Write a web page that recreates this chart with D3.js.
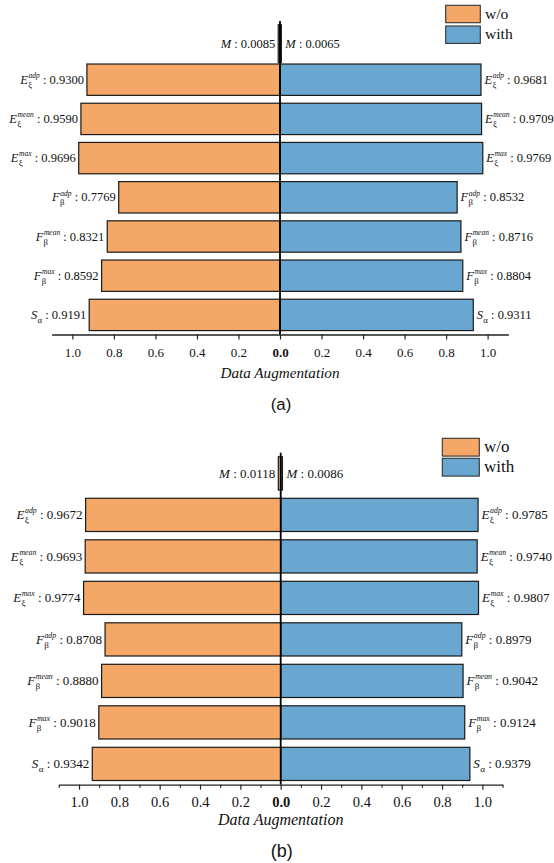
<!DOCTYPE html>
<html><head><meta charset="utf-8">
<script src="https://cdn.jsdelivr.net/npm/d3@7"></script>
<style>body{margin:0;background:#fff}svg{display:block}</style>
</head><body>
<svg id="chart" width="554" height="863"></svg>
<script>
// ---- data ----
const categories = ["M", "Eadp", "Emean", "Emax", "Fadp", "Fmean", "Fmax", "S"];
const mainLetters = ["M", "E", "E", "E", "F", "F", "F", "S"];
const subLetters = ["", "ξ", "ξ", "ξ", "β", "β", "β", "α"];
const supTexts = ["", "adp", "mean", "max", "adp", "mean", "max", ""];
const seriesNames = ["w/o", "with"];
const woA = [0.0085, 0.9300, 0.9590, 0.9696, 0.7769, 0.8321, 0.8592, 0.9191];
const withA = [0.0065, 0.9681, 0.9709, 0.9769, 0.8532, 0.8716, 0.8804, 0.9311];
const woB = [0.0118, 0.9672, 0.9693, 0.9774, 0.8708, 0.8880, 0.9018, 0.9342];
const withB = [0.0086, 0.9785, 0.9740, 0.9807, 0.8979, 0.9042, 0.9124, 0.9379];
const majorTicks = [-1.0, -0.8, -0.6, -0.4, -0.2, 0.0, 0.2, 0.4, 0.6, 0.8, 1.0];
const minorTicks = [-1.1, -0.9, -0.7, -0.5, -0.3, -0.1, 0.1, 0.3, 0.5, 0.7, 0.9, 1.1];
const axisTitle = "Data Augmentation";
const captions = ["(a)", "(b)"];

const colors = ["#F4A766", "#69A7D0"];
const serif = "'Liberation Serif','Times New Roman',serif";
const sans = "'Liberation Sans',Arial,sans-serif";

const svg = d3.select("#chart");

const panels = [
  {wo: woA, wi: withA, cx: 280, unit: 207.6, top: 20.9, bottom: 334.5, fs: 12.5, tickFs: 13,
   tickY: 352.7, titleY: 378, titleFs: 15.2, capY: 409.5, capFs: 16.8, minor: false, mFull: true,
   leg: {x: 445.7, y: 5.3, w: 34.6, h: 17.4, gap: 20.7, fs: 15.6, tx: 485}, cap: captions[0]},
  {wo: woB, wi: withB, cx: 280.7, unit: 201.7, top: 452.65, bottom: 784.65, fs: 13, tickFs: 14.5,
   tickY: 802, titleY: 825, titleFs: 16, capY: 857, capFs: 18, minor: true, mFull: false,
   leg: {x: 442.3, y: 438.3, w: 37, h: 17.8, gap: 20, fs: 17, tx: 484}, cap: captions[1]}
];

function measure(txt, size, italic) {
  const t = svg.append("text").style("font-family", serif).style("font-size", size + "px")
    .style("font-style", italic ? "italic" : "normal").attr("xml:space", "preserve").text(txt);
  const w = t.node().getComputedTextLength();
  t.remove();
  return w;
}

function drawLabel(g, x, yc, anchor, i, val, fs) {
  const supFs = fs * 0.6, subFs = fs * 0.7;
  const rest = " : " + val.toFixed(4);
  const w1 = measure(mainLetters[i], fs, true);
  const wSup = supTexts[i] ? measure(supTexts[i], supFs, true) + 0.6 : 0;
  const wSub = subLetters[i] ? measure(subLetters[i], subFs, false) + 0.3 : 0;
  const extra = Math.max(wSup, wSub);
  const wRest = measure(rest, fs, false);
  const total = w1 + extra + wRest;
  const tx = anchor === "end" ? x - total : x;
  const by = yc + fs * 0.32;
  const t = g.append("text").attr("x", tx).attr("y", by)
    .style("font-family", serif).style("font-size", fs + "px").attr("fill", "#111")
    .attr("xml:space", "preserve");
  t.append("tspan").style("font-style", "italic").text(mainLetters[i]);
  if (supTexts[i]) {
    t.append("tspan").attr("x", tx + w1 + 0.6).attr("y", by - fs * 0.45)
      .style("font-size", supFs + "px").style("font-style", "italic").text(supTexts[i]);
  }
  if (subLetters[i]) {
    t.append("tspan").attr("x", tx + w1 + 0.3).attr("y", by + fs * 0.33)
      .style("font-size", subFs + "px").text(subLetters[i]);
  }
  t.append("tspan").attr("x", tx + w1 + extra).attr("y", by).text(rest);
}

panels.forEach(p => {
  const g = svg.append("g");
  const x = d3.scaleLinear().domain([-1.1, 1.1]).range([p.cx - 1.1 * p.unit, p.cx + 1.1 * p.unit]);
  const y = d3.scaleBand().domain(categories).range([p.top, p.bottom]).paddingInner(0.2).paddingOuter(0.1);
  const bh = i => (i === 0 && p.mFull) ? (y(categories[1]) - y(categories[0]) - 1.5) : y.bandwidth();

  // bars
  categories.forEach((c, i) => {
    g.append("rect").attr("x", x(-p.wo[i])).attr("y", y(c))
      .attr("width", x(0) - x(-p.wo[i])).attr("height", bh(i))
      .attr("fill", colors[0]).attr("stroke", "#1a1a1a").attr("stroke-width", 1.2);
    g.append("rect").attr("x", x(0)).attr("y", y(c))
      .attr("width", x(p.wi[i]) - x(0)).attr("height", bh(i))
      .attr("fill", colors[1]).attr("stroke", "#1a1a1a").attr("stroke-width", 1.2);
  });

  // center line
  g.append("line").attr("x1", x(0)).attr("x2", x(0)).attr("y1", p.top).attr("y2", p.bottom)
    .attr("stroke", "#000").attr("stroke-width", 1.8);

  // labels
  categories.forEach((c, i) => {
    const yc = y(c) + bh(i) / 2;
    if (i === 0) {
      [[x(-p.wo[i]) - 3, "end", p.wo[i]], [x(p.wi[i]) + 4, "start", p.wi[i]]].forEach(([lx, an, v]) => {
        const t = g.append("text").attr("x", lx).attr("y", yc + p.fs * 0.32).attr("text-anchor", an)
          .style("font-family", serif).style("font-size", p.fs + "px").attr("fill", "#111")
          .attr("xml:space", "preserve");
        t.append("tspan").style("font-style", "italic").text("M");
        t.append("tspan").text(" : " + v.toFixed(4));
      });
    } else {
      drawLabel(g, x(-p.wo[i]) - 3, yc, "end", i, p.wo[i], p.fs);
      drawLabel(g, x(p.wi[i]) + 3.5, yc, "start", i, p.wi[i], p.fs);
    }
  });

  // axis
  const ax = g.append("g").attr("transform", `translate(0,${p.bottom})`)
    .call(d3.axisBottom(x).tickValues(majorTicks).tickSize(5).tickSizeOuter(0)
      .tickFormat(d => Math.abs(d).toFixed(1)));
  ax.select(".domain").attr("stroke", "#222").attr("stroke-width", 1.3);
  ax.selectAll(".tick line").attr("stroke", "#222").attr("stroke-width", 1.2);
  ax.selectAll(".tick text").attr("dy", null)
    .attr("y", p.tickY - p.bottom + p.tickFs * 0.35)
    .style("font-family", serif).style("font-size", p.tickFs + "px").attr("fill", "#111")
    .style("font-weight", d => d === 0 ? "bold" : "normal");
  if (p.minor) {
    const mx = g.append("g").attr("transform", `translate(0,${p.bottom})`)
      .call(d3.axisBottom(x).tickValues(minorTicks).tickSize(3).tickSizeOuter(0).tickFormat(""));
    mx.select(".domain").remove();
    mx.selectAll(".tick line").attr("stroke", "#222").attr("stroke-width", 1.2);
  }

  // axis title
  g.append("text").attr("x", x(0)).attr("y", p.titleY).attr("text-anchor", "middle")
    .style("font-family", serif).style("font-size", p.titleFs + "px").style("font-style", "italic")
    .attr("fill", "#111").text(axisTitle);
  // caption
  g.append("text").attr("x", x(0) + 1).attr("y", p.capY).attr("text-anchor", "middle")
    .style("font-family", sans).style("font-size", p.capFs + "px").attr("fill", "#111").text(p.cap);

  // legend
  seriesNames.forEach((s, k) => {
    const ly = p.leg.y + k * p.leg.gap;
    g.append("rect").attr("x", p.leg.x).attr("y", ly).attr("width", p.leg.w).attr("height", p.leg.h)
      .attr("fill", colors[k]).attr("stroke", "#333").attr("stroke-width", 1.1);
    g.append("text").attr("x", p.leg.tx).attr("y", ly + p.leg.h / 2 + p.leg.fs * 0.3)
      .style("font-family", serif).style("font-size", p.leg.fs + "px").attr("fill", "#111").text(s);
  });
});
</script>
</body></html>
